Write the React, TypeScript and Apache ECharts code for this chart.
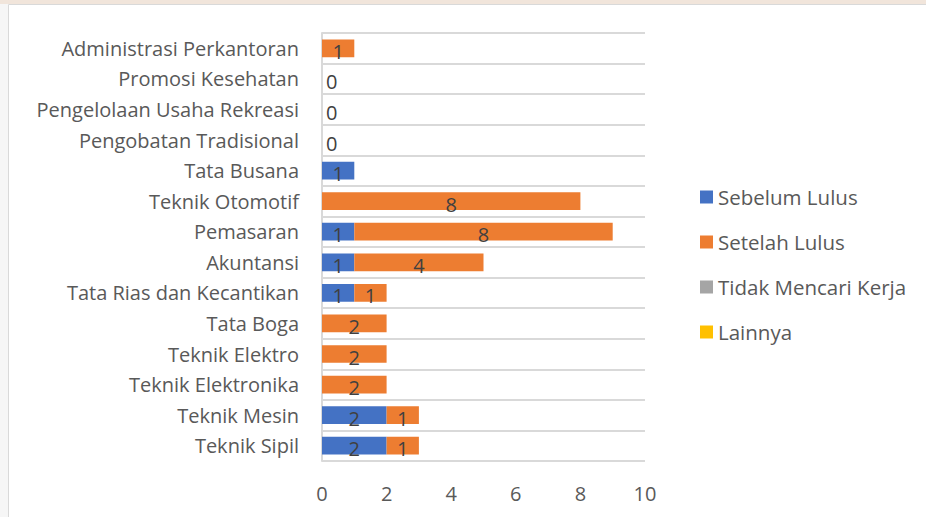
import React, { useEffect, useRef } from "react";
import * as echarts from "echarts";

const categories = [
  "Teknik Sipil",
  "Teknik Mesin",
  "Teknik Elektronika",
  "Teknik Elektro",
  "Tata Boga",
  "Tata Rias dan Kecantikan",
  "Akuntansi",
  "Pemasaran",
  "Teknik Otomotif",
  "Tata Busana",
  "Pengobatan Tradisional",
  "Pengelolaan Usaha Rekreasi",
  "Promosi Kesehatan",
  "Administrasi Perkantoran",
];

const sebelumLulus = [2, 2, 0, 0, 0, 1, 1, 1, 0, 1, 0, 0, 0, 0];
const setelahLulus = [1, 1, 2, 2, 2, 1, 4, 8, 8, 0, 0, 0, 0, 1];
const tidakMencariKerja = [0, 0, 0, 0, 0, 0, 0, 0, 0, 0, 0, 0, 0, 0];
const lainnya = [0, 0, 0, 0, 0, 0, 0, 0, 0, 0, 0, 0, 0, 0];

const seriesNames = ["Sebelum Lulus", "Setelah Lulus", "Tidak Mencari Kerja", "Lainnya"];
const seriesColors = ["#4472C4", "#ED7D31", "#A5A5A5", "#FFC000"];
const xTicks = [0, 2, 4, 6, 8, 10];

const FONT = "'Open Sans', Lato, sans-serif";

export default function App() {
  const ref = useRef<HTMLDivElement>(null);

  useEffect(() => {
    if (!ref.current) return;
    const chart = echarts.init(ref.current, null, { renderer: "svg" });
    const totals = categories.map(
      (_, i) => sebelumLulus[i] + setelahLulus[i] + tidakMencariKerja[i] + lainnya[i]
    );
    const allData = [sebelumLulus, setelahLulus, tidakMencariKerja, lainnya];

    const labelBase = {
      color: "#404040",
      fontSize: 20,
      fontFamily: FONT,
      offset: [0, 3],
    };

    const series = allData.map((arr, si) => ({
      name: seriesNames[si],
      type: "bar",
      stack: "total",
      barWidth: "58%",
      itemStyle: { color: seriesColors[si] },
      label: { show: false },
      data: arr.map((v, i) => {
        if (si < 2 && v > 0) {
          return { value: v, label: { show: true, position: "inside", ...labelBase } };
        }
        if (si === 1 && totals[i] === 0) {
          return {
            value: v,
            label: { show: true, position: "right", distance: 4, ...labelBase },
          };
        }
        return { value: v };
      }),
    }));

    chart.setOption({
      animation: false,
      backgroundColor: "#ffffff",
      graphic: [
        { type: "rect", shape: { x: 0, y: 0, width: 926, height: 4 }, style: { fill: "#f1e5db" }, silent: true },
        { type: "rect", shape: { x: 0, y: 4, width: 8, height: 513 }, style: { fill: "#f6f6f6" }, silent: true },
        { type: "line", shape: { x1: 8.5, y1: 4.5, x2: 8.5, y2: 517 }, style: { stroke: "#d9d9d9", lineWidth: 1 }, silent: true },
        { type: "line", shape: { x1: 8.5, y1: 4.5, x2: 926, y2: 4.5 }, style: { stroke: "#d9d9d9", lineWidth: 1 }, silent: true },
      ],
      grid: { left: 322, right: 281, top: 33, bottom: 56, containLabel: false },
      legend: {
        orient: "vertical",
        left: 700,
        top: 186,
        padding: 0,
        itemWidth: 13,
        itemHeight: 13,
        itemGap: 23,
        icon: "rect",
        data: seriesNames,
        textStyle: { color: "#595959", fontSize: 20.5, fontFamily: FONT, lineHeight: 22 },
      },
      xAxis: {
        type: "value",
        min: xTicks[0],
        max: xTicks[xTicks.length - 1],
        interval: 2,
        axisLine: { show: false },
        axisTick: { show: false },
        splitLine: { show: false },
        axisLabel: { color: "#595959", fontSize: 20, fontFamily: FONT, margin: 22 },
      },
      yAxis: {
        type: "category",
        data: categories,
        axisLine: { show: true, lineStyle: { color: "#d9d9d9", width: 2 } },
        axisTick: { show: false },
        splitLine: { show: true, lineStyle: { color: "#d9d9d9", width: 2 } },
        axisLabel: { color: "#595959", fontSize: 20, fontFamily: FONT, margin: 23 },
      },
      series,
    });
    return () => chart.dispose();
  }, []);

  return (
    <div
      ref={ref}
      style={{ position: "fixed", left: 0, top: 0, width: 926, height: 517 }}
    />
  );
}
